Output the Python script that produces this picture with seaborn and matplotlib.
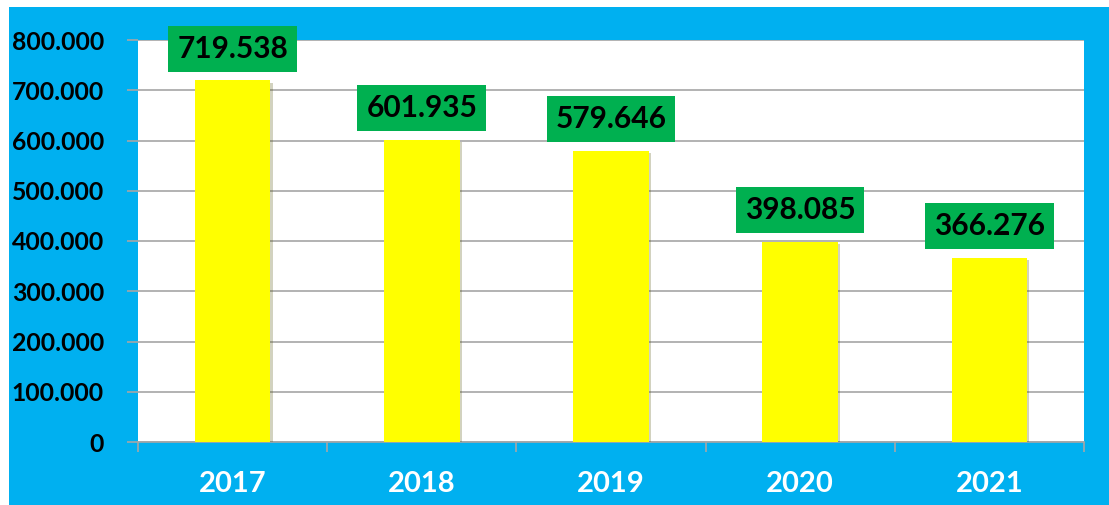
import matplotlib
matplotlib.use("Agg")
import matplotlib.pyplot as plt
import matplotlib.patheffects as pe
from matplotlib.patches import Rectangle
from matplotlib.ticker import FuncFormatter, FixedLocator
import seaborn as sns
import pandas as pd

years = ["2017", "2018", "2019", "2020", "2021"]
values = [719538, 601935, 579646, 398085, 366276]
y_ticks = [0, 100000, 200000, 300000, 400000, 500000, 600000, 700000, 800000]

BLUE = "#00B0F0"
GREEN = "#00B050"
YELLOW = "#FFFF00"
GRID = "#A6A6A6"


def dot_thousands(v, pos=None):
    # 719538 -> "719.538"
    return f"{int(v):,}".replace(",", ".")


sns.set_theme(style="white")
plt.rcParams["font.family"] = ["Lato", "DejaVu Sans"]
plt.rcParams["font.weight"] = "bold"

df = pd.DataFrame({"year": years, "value": values})

fig = plt.figure(figsize=(11.09, 5.05), dpi=100, facecolor="white")
# blue chart area (the reference has a thin white margin top and left)
fig.patches.append(Rectangle((9 / 1109, 0), 1, (505 - 7) / 505,
                             transform=fig.transFigure, facecolor=BLUE,
                             edgecolor="none", zorder=-10))

ax = fig.add_axes([138 / 1109, 63 / 505, (1084 - 138) / 1109, (442 - 40) / 505])
ax.set_zorder(5)
ax.set_facecolor("white")

sns.barplot(data=df, x="year", y="value", color=YELLOW, width=0.4,
            saturation=1, ax=ax, zorder=3)

for bar in ax.patches:
    bar.set_edgecolor("none")
    bar.set_path_effects([pe.SimplePatchShadow(offset=(1.5, -1.5), alpha=0.25),
                          pe.Normal()])

for i, v in enumerate(values):
    ax.annotate(dot_thousands(v), xy=(i, v), xytext=(0, 12.7),
                textcoords="offset points", ha="center", va="bottom",
                fontsize=21.5, fontweight="bold", color="black",
                bbox=dict(boxstyle="square,pad=0.3", facecolor=GREEN,
                          edgecolor="none"),
                zorder=5, annotation_clip=False)

ax.set_ylim(0, 800000)
ax.set_xlim(-0.5, len(years) - 0.5)
ax.set_yticks(y_ticks)
ax.yaxis.set_major_formatter(FuncFormatter(dot_thousands))
ax.grid(axis="y", color=GRID, linewidth=1.2, zorder=0)
ax.set_axisbelow(True)

for side in ["top", "right", "left"]:
    ax.spines[side].set_visible(False)
ax.spines["bottom"].set_color(GRID)
ax.spines["bottom"].set_linewidth(1.2)

ax.tick_params(axis="y", which="major", length=8, width=1.2, color=GRID,
               pad=16.5, labelsize=17.8, labelcolor="black", left=True)
ax.tick_params(axis="x", which="major", length=0, pad=21,
               labelsize=21, labelcolor="white")
ax.xaxis.set_minor_locator(FixedLocator([i - 0.5 for i in range(len(years) + 1)]))
ax.tick_params(axis="x", which="minor", length=7, width=1.2, color=GRID,
               bottom=True)
for lbl in ax.get_xticklabels() + ax.get_yticklabels():
    lbl.set_fontweight("bold")

ax.set_xlabel("")
ax.set_ylabel("")

fig.savefig("out.png", dpi=100, facecolor=fig.get_facecolor())
